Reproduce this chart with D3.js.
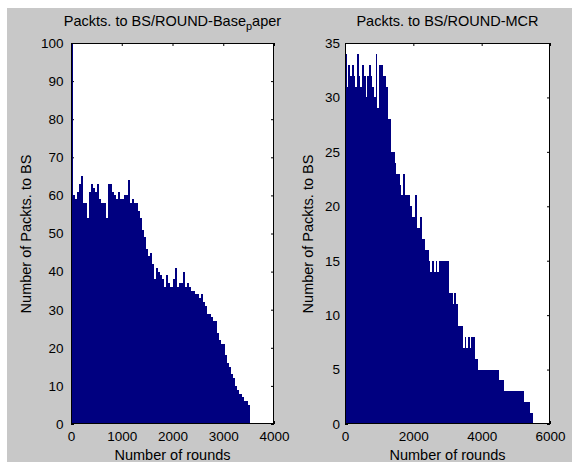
<!DOCTYPE html>
<html>
<head>
<meta charset="utf-8">
<script src="https://cdn.jsdelivr.net/npm/d3@7"></script>
<style>
  body { margin: 0; background: #fff; }
  svg text { font-family: "Liberation Sans", Arial, Helvetica, sans-serif; fill: #000; }
</style>
</head>
<body>
<div id="chart"></div>
<script>
// packets per round, grouped in bins of rounds
const baseBin = 40;
const baseCounts = [
  100, 60, 59, 61, 63, 65, 58, 58, 54, 61,
  63, 62, 61, 63, 59, 58, 58, 54, 63, 63,
  61, 60, 59, 61, 59, 59, 60, 60, 64, 58,
  59, 58, 58, 56, 54, 51, 49, 46, 44, 45,
  42, 38, 41, 40, 39, 38, 36, 39, 37, 36,
  38, 41, 36, 37, 37, 40, 36, 37, 36, 35,
  35, 34, 34, 33, 34, 32, 31, 29, 29, 28,
  27, 27, 24, 22, 21, 21, 18, 16, 15, 13,
  12, 10, 9, 8, 7, 6, 6, 5
];
const mcrBin = 50;
const mcrCounts = [
  34, 31, 33, 32, 33, 32, 31, 34, 32, 31,
  33, 32, 30, 32, 33, 32, 31, 30, 34, 29,
  33, 33, 32, 32, 31, 28, 28, 25, 25, 24,
  23, 23, 22, 21, 23, 21, 21, 21, 20, 19,
  19, 21, 18, 18, 19, 17, 17, 16, 16, 15,
  14, 15, 14, 15, 14, 15, 15, 15, 15, 15,
  15, 12, 12, 11, 12, 11, 9, 9, 9, 7,
  8, 7, 8, 7, 8, 8, 6, 6, 5, 5,
  5, 5, 5, 5, 5, 5, 5, 5, 5, 5,
  4, 4, 4, 3, 3, 3, 3, 3, 3, 3,
  3, 3, 3, 3, 3, 2, 2, 2, 1, 1
];
const baseTicksX = [0, 1000, 2000, 3000, 4000];
const baseTicksY = [0, 10, 20, 30, 40, 50, 60, 70, 80, 90, 100];
const mcrTicksX = [0, 2000, 4000, 6000];
const mcrTicksY = [0, 5, 10, 15, 20, 25, 30, 35];

const width = 572;
const height = 462;

const svg = d3.select("#chart")
  .append("svg")
  .attr("width", width)
  .attr("height", height);

svg.append("rect")
  .attr("x", 7).attr("y", 8)
  .attr("width", width - 7).attr("height", height - 8)
  .attr("fill", "#c8c8c8");

function drawPanel(opt) {
  const x = d3.scaleLinear().domain(opt.xDomain).range([opt.left, opt.right]);
  const y = d3.scaleLinear().domain(opt.yDomain).range([424, 43]);
  const g = svg.append("g");

  g.append("rect")
    .attr("x", opt.left).attr("y", 43)
    .attr("width", opt.right - opt.left).attr("height", 381)
    .attr("fill", "#fff");

  const fmt = d3.format("d");

  // ticks point inwards, labels outside
  g.append("g")
    .attr("transform", "translate(0,424)")
    .call(d3.axisBottom(x).tickValues(opt.xTicks).tickFormat(fmt)
      .tickSize(-3).tickSizeOuter(0).tickPadding(7));
  g.append("g")
    .attr("transform", `translate(${opt.left},0)`)
    .call(d3.axisLeft(y).tickValues(opt.yTicks).tickFormat(fmt)
      .tickSize(-3).tickSizeOuter(0).tickPadding(opt.yPad));
  g.append("g")
    .attr("transform", "translate(0,43)")
    .call(d3.axisTop(x).tickValues(opt.xTicks).tickFormat("")
      .tickSize(-3).tickSizeOuter(0));
  g.append("g")
    .attr("transform", `translate(${opt.right},0)`)
    .call(d3.axisRight(y).tickValues(opt.yTicks).tickFormat("")
      .tickSize(-3).tickSizeOuter(0));

  g.selectAll(".domain").remove();
  g.selectAll(".tick line").attr("stroke", "#000");
  g.selectAll(".tick text")
    .style("font-size", "13.5px")
    .attr("fill", "#000");

  g.append("g")
    .selectAll("rect")
    .data(opt.counts)
    .join("rect")
    .attr("x", (d, i) => x(i * opt.bin))
    .attr("width", (d, i) => x((i + 1) * opt.bin) - x(i * opt.bin))
    .attr("y", (d) => y(d))
    .attr("height", (d) => y(0) - y(d))
    .attr("fill", "#000080")
    .attr("shape-rendering", "crispEdges");

  g.append("rect")
    .attr("x", opt.left + 0.5).attr("y", 43.5)
    .attr("width", opt.right - opt.left - 1).attr("height", 380)
    .attr("fill", "none")
    .attr("stroke", "#000")
    .attr("stroke-width", 1);

  const cx = (opt.left + opt.right) / 2;

  const title = g.append("text")
    .attr("x", cx).attr("y", 26)
    .attr("text-anchor", "middle")
    .style("font-size", "14.5px");
  opt.title(title);

  g.append("text")
    .attr("x", cx).attr("y", 460)
    .attr("text-anchor", "middle")
    .style("font-size", "14.5px")
    .text("Number of rounds");

  g.append("text")
    .attr("transform", `translate(${opt.yLabelX},234) rotate(-90)`)
    .attr("text-anchor", "middle")
    .style("font-size", "14.5px")
    .text("Number of Packts. to BS");
}

drawPanel({
  left: 71, right: 274,
  xDomain: [0, 4000], yDomain: [0, 100],
  xTicks: baseTicksX, yTicks: baseTicksY,
  counts: baseCounts, bin: baseBin,
  yPad: 7.5, yLabelX: 31,
  title: (t) => {
    t.append("tspan").text("Packts. to BS/ROUND-Base");
    t.append("tspan").attr("dy", 4).style("font-size", "11px").text("p");
    t.append("tspan").attr("dy", -4).text("aper");
  }
});

drawPanel({
  left: 345, right: 550,
  xDomain: [0, 6000], yDomain: [0, 35],
  xTicks: mcrTicksX, yTicks: mcrTicksY,
  counts: mcrCounts, bin: mcrBin,
  yPad: 5, yLabelX: 313,
  title: (t) => t.text("Packts. to BS/ROUND-MCR")
});
</script>
</body>
</html>
